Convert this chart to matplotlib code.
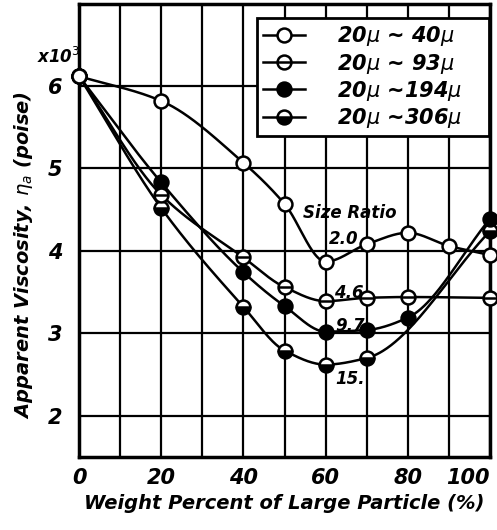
import numpy as np
import matplotlib
matplotlib.use("Agg")
import matplotlib.pyplot as plt
from matplotlib.lines import Line2D
from matplotlib.path import Path

# weight percent of large particle
x_2_0 = [0, 20, 40, 50, 60, 70, 80, 90, 100]
x_4_6 = [0, 20, 40, 50, 60, 70, 80, 100]
x_9_7 = [0, 20, 40, 50, 60, 70, 80, 100]
x_15 = [0, 20, 40, 50, 60, 70, 100]

# apparent viscosity (x10^3 poise)
y_2_0 = [6.12, 5.82, 5.07, 4.57, 3.87, 4.08, 4.22, 4.06, 3.95]
y_4_6 = [6.12, 4.68, 3.92, 3.56, 3.39, 3.43, 3.44, 3.43]
y_9_7 = [6.12, 4.83, 3.74, 3.33, 3.02, 3.04, 3.19, 4.39]
y_15 = [6.12, 4.52, 3.32, 2.79, 2.62, 2.70, 4.24]

legend_labels = [r"20$\mu$ ~ 40$\mu$", r"20$\mu$ ~ 93$\mu$",
                 r"20$\mu$ ~194$\mu$", r"20$\mu$ ~306$\mu$"]
ratio_labels = ["2.0", "4.6", "9.7", "15."]

FONT = dict(fontweight="bold", fontstyle="italic", family="DejaVu Sans")


def pchip(x, y, xs):
    """Monotone cubic curve through the measured points."""
    x = np.asarray(x, float)
    y = np.asarray(y, float)
    h = np.diff(x)
    d = np.diff(y) / h
    n = len(x)
    m = np.zeros(n)
    m[0], m[-1] = d[0], d[-1]
    for k in range(1, n - 1):
        if d[k - 1] * d[k] > 0:
            w1 = 2 * h[k] + h[k - 1]
            w2 = h[k] + 2 * h[k - 1]
            m[k] = (w1 + w2) / (w1 / d[k - 1] + w2 / d[k])
    idx = np.clip(np.searchsorted(x, xs) - 1, 0, n - 2)
    t = (xs - x[idx]) / h[idx]
    h00 = 2 * t**3 - 3 * t**2 + 1
    h10 = t**3 - 2 * t**2 + t
    h01 = -2 * t**3 + 3 * t**2
    h11 = t**3 - t**2
    return (h00 * y[idx] + h10 * h[idx] * m[idx]
            + h01 * y[idx + 1] + h11 * h[idx] * m[idx + 1])


# circle with a bar through it
theta_marker = Path.make_compound_path(
    Path.unit_circle(),
    Path([(-1, 0), (1, 0)], [Path.MOVETO, Path.LINETO]))

styles = [
    dict(marker="o", markerfacecolor="white"),
    dict(marker=theta_marker, markerfacecolor="white"),
    dict(marker="o", markerfacecolor="black"),
    dict(marker="o", fillstyle="bottom", markerfacecolor="black",
         markerfacecoloralt="white"),
]
series = [(x_2_0, y_2_0), (x_4_6, y_4_6), (x_9_7, y_9_7), (x_15, y_15)]

fig = plt.figure(figsize=(4.97, 5.30), dpi=100)
ax = fig.add_axes([0.159, 0.138, 0.827, 0.855])

xs = np.linspace(0, 100, 400)
handles = []
for i in reversed(range(4)):
    xv, yv = series[i]
    ax.plot(xs, pchip(xv, yv, xs), color="black", lw=1.8, zorder=3)
    ax.plot(xv, yv, linestyle="none", markersize=10, markeredgewidth=1.8,
            markeredgecolor="black", zorder=4 + (3 - i), clip_on=False,
            **styles[i])
for i in range(4):
    handles.append(Line2D([], [], color="black", lw=1.8, markersize=10,
                          markeredgewidth=1.8, markeredgecolor="black",
                          **styles[i]))

ax.set_xlim(0, 100)
ax.set_ylim(1.5, 7)
ax.set_xticks(range(0, 101, 20))
ax.set_xticks(range(10, 100, 20), minor=True)
ax.set_yticks([2, 3, 4, 5, 6])
ax.grid(which="both", color="black", lw=1.6, zorder=1)
ax.set_axisbelow(True)
ax.tick_params(which="both", length=0)
ax.tick_params(axis="x", pad=8)
ax.tick_params(axis="y", pad=12)
for lab in ax.get_xticklabels() + ax.get_yticklabels():
    lab.set_fontsize(15)
    lab.set_fontweight("bold")
    lab.set_fontstyle("italic")
ax.get_xticklabels()[-1].set_horizontalalignment("right")
for sp in ax.spines.values():
    sp.set_linewidth(2.5)

ax.set_xlabel("Weight Percent of Large Particle (%)", fontsize=14,
              labelpad=4, **FONT)
ax.set_ylabel(r"Apparent Viscosity, $\eta_a$ (poise)", fontsize=14, **FONT)
ax.yaxis.set_label_coords(-0.108, 0.446)
ax.text(0.3, 6.28, r"x10$^3$", ha="right", va="baseline", fontsize=12, **FONT)

ax.text(54.5, 4.46, "Size Ratio", ha="left", va="center", fontsize=12, **FONT)
ratio_pos = [(64.5, 4.15), (65.7, 3.49), (66, 3.09), (66, 2.45)]
for lab, (px, py) in zip(ratio_labels, ratio_pos):
    ax.text(px, py, lab, ha="center", va="center", fontsize=12, **FONT)

leg = ax.legend(handles, legend_labels, loc="upper left", mode="expand",
                bbox_to_anchor=(0.433, 0.5, 0.564, 0.468), borderaxespad=0,
                fancybox=False, framealpha=1, edgecolor="black",
                handlelength=2.0, labelspacing=0.15, borderpad=0.3,
                handletextpad=1.55,
                prop=dict(size=15, weight="bold", style="italic"))
leg.get_frame().set_linewidth(2)
leg.set_zorder(10)

fig.savefig("out.png", dpi=100, facecolor="white")
